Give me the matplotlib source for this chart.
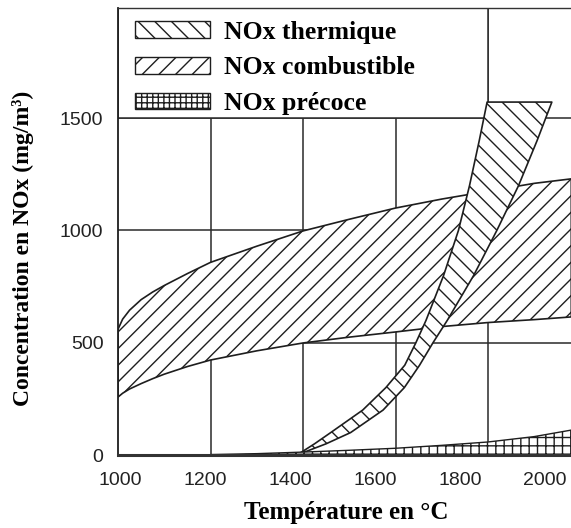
import matplotlib
matplotlib.use("Agg")
import matplotlib.pyplot as plt
from matplotlib.patches import Patch, Rectangle
import numpy as np

# ---------------- data ----------------
# NOx combustible band (temperature -> lower / upper concentration)
comb_T = [1000, 1010, 1025, 1050, 1075, 1100, 1150, 1200, 1300, 1400, 1500, 1600, 1700, 1800, 1900, 1980]
comb_low = [258, 275, 294, 318, 340, 360, 394, 423, 464, 499, 525, 548, 572, 590, 603, 615]
comb_high = [560, 605, 645, 692, 726, 755, 808, 858, 930, 998, 1050, 1100, 1140, 1175, 1210, 1230]

# NOx thermique band (concentration -> left / right temperature)
therm_v = [0, 50, 100, 200, 300, 400, 500, 600, 800, 1000, 1200, 1400, 1572]
therm_left = [1387, 1425, 1460, 1529, 1579, 1620, 1644, 1666, 1704, 1736, 1760, 1781, 1798]
therm_right = [1387, 1450, 1503, 1573, 1619, 1652, 1681, 1712, 1769, 1819, 1866, 1906, 1938]

# NOx précoce band (temperature -> upper concentration, lower is 0)
prec_T = [1200, 1300, 1400, 1500, 1600, 1700, 1800, 1900, 1980]
prec_high = [2, 6, 13, 21, 30, 43, 58, 82, 111]

labels = ["NOx thermique", "NOx combustible", "NOx précoce"]
xtick_labels = [1000, 1200, 1400, 1600, 1800, 2000]
yticks = [0, 500, 1000, 1500]
grid_x = [1200, 1400, 1600, 1800]
legend_box = (1000, 1800, 1500)  # legend area: x from, x to, y from

xlabel = "Température en °C"
ylabel = "Concentration en NOx (mg/m³)"

# ---------------- styling ----------------
SERIF = ["Liberation Serif", "DejaVu Serif"]
SANS = ["Liberation Sans", "DejaVu Sans"]
INK = "#1e1e1e"
GRID = "#2a2a2a"
plt.rcParams["hatch.linewidth"] = 1.0

fig = plt.figure(figsize=(5.71, 5.28), dpi=100)
ax = fig.add_axes([118 / 571, 73 / 528, 453 / 571, 447 / 528])
ax.set_xlim(1000, 1979.4)
ax.set_ylim(0, 1991)

# grid (under everything)
ax.set_axisbelow(True)
ax.set_xticks(grid_x)
ax.set_yticks(yticks)
ax.grid(True, color=GRID, lw=1.1)
ax.tick_params(axis="x", labelbottom=False, length=0)
ax.tick_params(axis="y", length=0, pad=10.5, labelsize=14, labelcolor="#222222")
for t in ax.get_yticklabels():
    t.set_fontfamily(SANS)
    t.set_verticalalignment("center_baseline")

# white legend area covering the grid
x0, x1, y0 = legend_box
ax.add_patch(Rectangle((x0, y0), x1 - x0, ax.get_ylim()[1] - y0,
                       facecolor="white", edgecolor=GRID, lw=1.1, zorder=1))

# bands
ax.fill_between(comb_T, comb_low, comb_high, facecolor="white", edgecolor=INK,
                hatch="//", lw=1.2, zorder=2)
ax.fill_betweenx(therm_v, therm_left, therm_right, facecolor="white", edgecolor=INK,
                 hatch="\\\\", lw=1.2, zorder=3)
ax.fill_between(prec_T, 0, prec_high, facecolor="white", edgecolor=INK,
                hatch="++", lw=1.0, zorder=4)

# spines
ax.spines["right"].set_visible(False)
ax.spines["top"].set_color("#333333")
ax.spines["top"].set_linewidth(1.0)
ax.spines["left"].set_color(INK)
ax.spines["left"].set_linewidth(1.3)
ax.spines["bottom"].set_color("#333333")
ax.spines["bottom"].set_linewidth(2.2)
for s in ax.spines.values():
    s.set_zorder(6)

# tick labels of the (scanned) axis sit slightly off the grid
def true_to_label(T):
    return 1000 + (np.asarray(T, dtype=float) - 1004.3) / 0.919

def label_to_true(L):
    return 1004.3 + 0.919 * (np.asarray(L, dtype=float) - 1000)

sec = ax.secondary_xaxis("bottom", functions=(true_to_label, label_to_true))
sec.set_xticks(xtick_labels)
sec.tick_params(length=0, pad=12, labelsize=14, labelcolor="#222222")
sec.spines["bottom"].set_visible(False)
for t in sec.get_xticklabels():
    t.set_fontfamily(SANS)

# legend
handles = [
    Patch(facecolor="white", edgecolor=INK, hatch="\\\\", lw=1.0),
    Patch(facecolor="white", edgecolor=INK, hatch="//", lw=1.0),
    Patch(facecolor="white", edgecolor=INK, hatch="+++", lw=1.0),
]
leg = ax.legend(handles, labels, loc="upper left", bbox_to_anchor=(0.037, 0.972),
                frameon=False, borderaxespad=0, borderpad=0,
                handlelength=2.92, handleheight=0.62, handletextpad=0.55,
                labelspacing=0.5,
                prop={"family": SERIF, "weight": "bold", "size": 18.5})
leg.set_zorder(7)

# axis titles
fig.text(346 / 571, 1 - 513 / 528, xlabel, ha="center", va="center",
         family=SERIF, weight="bold", fontsize=18, color="black")
fig.text(23 / 571, 1 - 248 / 528, ylabel, ha="center", va="center", rotation=90,
         family=SERIF, weight="bold", fontsize=17, color="black")

fig.savefig("out.png", dpi=100)
